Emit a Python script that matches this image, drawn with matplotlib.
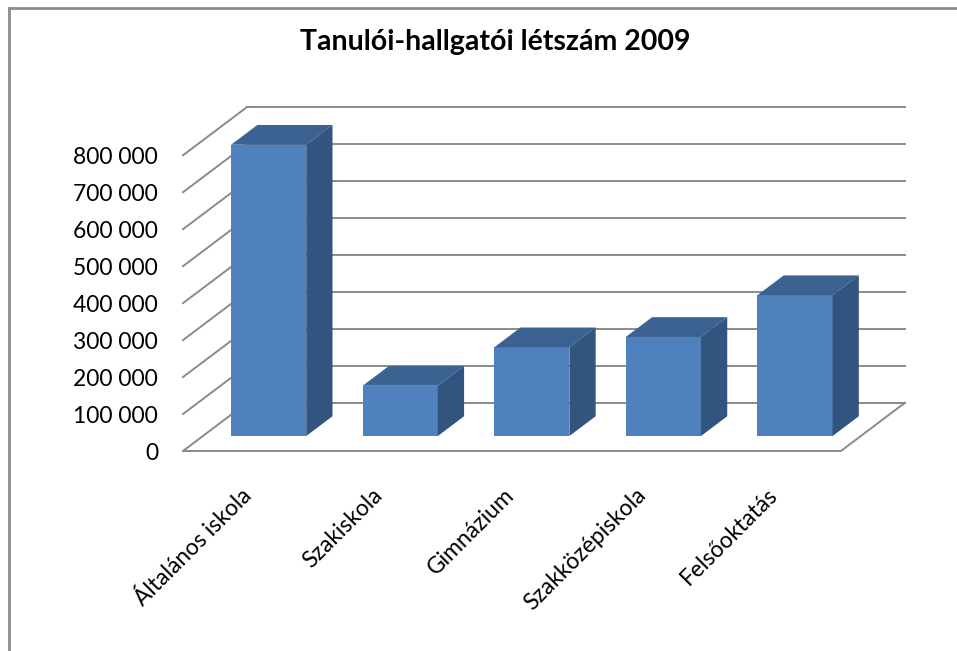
import matplotlib.pyplot as plt
from matplotlib.patches import Polygon
from matplotlib.lines import Line2D
from matplotlib.ticker import FuncFormatter

# data
categories = ['Általános iskola', 'Szakiskola', 'Gimnázium', 'Szakközépiskola', 'Felsőoktatás']
students = [788000, 136000, 240000, 268000, 381000]
y_ticks = list(range(0, 800001, 100000))
title = 'Tanulói-hallgatói létszám 2009'

# fake 3d depth: offset of the back wall in data units
DX = 0.487
DY = 130600
D0, D1 = 0.31, 0.72   # front / back of the bars as depth fractions
W = 0.571

FRONT = '#4F81BD'
TOP = '#3B6290'
SIDE = '#325580'
GRID = '#8a8a8a'

plt.rcParams['font.family'] = ['Lato', 'DejaVu Sans']

fig = plt.figure(figsize=(9.57, 6.51), dpi=100)
ax = fig.add_axes([183 / 957, 200 / 651, 722 / 957, 344 / 651])
ax.set_xlim(-0.5, len(categories) - 0.5 + DX)
ax.set_ylim(0, y_ticks[-1] + DY)
for s in ax.spines.values():
    s.set_visible(False)

# walls and floor
x_lo, x_hi = -0.5, len(categories) - 0.5
for v in y_ticks:
    ax.plot([x_lo, x_lo + DX], [v, v + DY], color=GRID, lw=1.4, zorder=1, clip_on=False)
    ax.plot([x_lo + DX, x_hi + DX], [v + DY, v + DY], color=GRID, lw=1.4, zorder=1, clip_on=False)
ax.plot([x_lo, x_hi, x_hi + DX], [0, 0, DY], color=GRID, lw=1.4, zorder=1, clip_on=False)

# bars: front face + top + side
xs = list(range(len(categories)))
ax.bar([x + D0 * DX for x in xs], students, W, bottom=D0 * DY, color=FRONT, zorder=3)
for x, v in zip(xs, students):
    xl, xr = x - W / 2, x + W / 2
    top = [(xl + D0 * DX, v + D0 * DY), (xr + D0 * DX, v + D0 * DY),
           (xr + D1 * DX, v + D1 * DY), (xl + D1 * DX, v + D1 * DY)]
    side = [(xr + D0 * DX, D0 * DY), (xr + D1 * DX, D1 * DY),
            (xr + D1 * DX, v + D1 * DY), (xr + D0 * DX, v + D0 * DY)]
    ax.add_patch(Polygon(top, closed=True, color=TOP, zorder=3, lw=0))
    ax.add_patch(Polygon(side, closed=True, color=SIDE, zorder=3, lw=0))

ax.set_yticks(y_ticks)
ax.yaxis.set_major_formatter(FuncFormatter(lambda v, p: f'{int(v):,}'.replace(',', ' ')))
ax.tick_params(axis='y', length=0, pad=18, labelsize=16.5, colors='black')

ax.set_xticks([x + 0.05 for x in xs])
ax.set_xticklabels(categories, rotation=45, ha='right')
ax.tick_params(axis='x', length=0, pad=24, labelsize=16.5)

fig.text(0.517, 1 - 42 / 651, title, ha='center', va='center',
         fontsize=20.5, fontweight='bold')

# chart frame (only top and left edges are in view)
fig.add_artist(Line2D([9 / 957, 9 / 957], [0, 1 - 8 / 651], transform=fig.transFigure,
                      color='#8c8c8c', lw=2))
fig.add_artist(Line2D([9 / 957, 1], [1 - 8 / 651, 1 - 8 / 651], transform=fig.transFigure,
                      color='#8c8c8c', lw=2))

fig.savefig('out.png', dpi=100)
